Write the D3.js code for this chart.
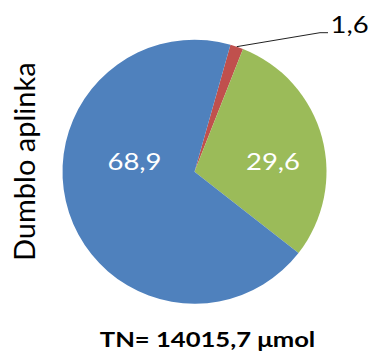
<!DOCTYPE html>
<html>
<head>
<meta charset="utf-8">
<script src="https://cdn.jsdelivr.net/npm/d3@7/dist/d3.min.js"></script>
<style>
  html, body { margin: 0; padding: 0; background: #fff; }
  svg { display: block; }
  text { font-family: Lato, "Open Sans", sans-serif; }
</style>
</head>
<body>
<svg id="chart" width="370" height="355"></svg>
<script>
// Shares of total nitrogen (%), clockwise from the first slice
const categories = ["Dalis 1", "Dalis 2", "Dalis 3"];
const shares = [1.6, 29.6, 68.9];
const shareLabels = ["1,6", "29,6", "68,9"];
const colors = ["#C0504D", "#9BBB59", "#4F81BD"];

const axisTitle = "Dumblo aplinka";
const chartTitle = "TN= 14015,7 \u03bcmol";

const cx = 194.5, cy = 171.7, R = 132;
const firstSliceAngle = 15.8 * Math.PI / 180;
const wide = 1.22;          // horizontal widening of the label glyphs
const labelSize = 22.5;

const svg = d3.select("#chart");

const pie = d3.pie()
  .value(d => d.v)
  .sort(null)
  .startAngle(firstSliceAngle)
  .endAngle(firstSliceAngle + 2 * Math.PI);

const slices = pie(categories.map((c, i) => ({ c, v: shares[i], label: shareLabels[i], color: colors[i] })));

const arc = d3.arc().innerRadius(0).outerRadius(R);

const g = svg.append("g").attr("transform", `translate(${cx},${cy})`);

g.selectAll("path.slice")
  .data(slices)
  .join("path")
  .attr("class", "slice")
  .attr("d", arc)
  .attr("fill", d => d.data.color);

// Inside labels sit on a shared baseline, spread radially along x;
// the small slice gets a leader line to an outside label.
const insidePlacement = { "Dalis 2": { kx: 0.616 }, "Dalis 3": { kx: 0.478 } };
const insideBaseline = -1.7;

slices.forEach(s => {
  const mid = (s.startAngle + s.endAngle) / 2;
  if (insidePlacement[s.data.c]) {
    const p = insidePlacement[s.data.c];
    g.append("text")
      .attr("transform", `translate(${Math.sin(mid) * R * p.kx},${insideBaseline}) scale(${wide},1)`)
      .attr("text-anchor", "middle")
      .attr("fill", "#fff")
      .attr("font-size", labelSize)
      .text(s.data.label);
  } else {
    const x0 = Math.sin(mid) * R, y0 = -Math.cos(mid) * R;
    const elbowX = 320 - cx, elbowY = 32.7 - cy;
    const endX = 328 - cx;
    g.append("path")
      .attr("d", d3.line()([[x0, y0], [elbowX, elbowY], [endX, elbowY]]))
      .attr("fill", "none")
      .attr("stroke", "#222")
      .attr("stroke-width", 1);
    g.append("text")
      .attr("transform", `translate(${endX + 2.5},${elbowY}) scale(${wide},1)`)
      .attr("fill", "#000")
      .attr("font-size", labelSize)
      .text(s.data.label);
  }
});

// Rotated side title
svg.append("text")
  .attr("transform", `translate(35,${cy - 10}) rotate(-90)`)
  .attr("text-anchor", "middle")
  .attr("fill", "#000")
  .attr("font-size", 29)
  .text(axisTitle);

// Bottom title
svg.append("text")
  .attr("transform", `translate(${cx + 13},346.5) scale(${wide},1)`)
  .attr("text-anchor", "middle")
  .attr("font-weight", "bold")
  .attr("fill", "#000")
  .attr("font-size", 21)
  .text(chartTitle);
</script>
</body>
</html>
